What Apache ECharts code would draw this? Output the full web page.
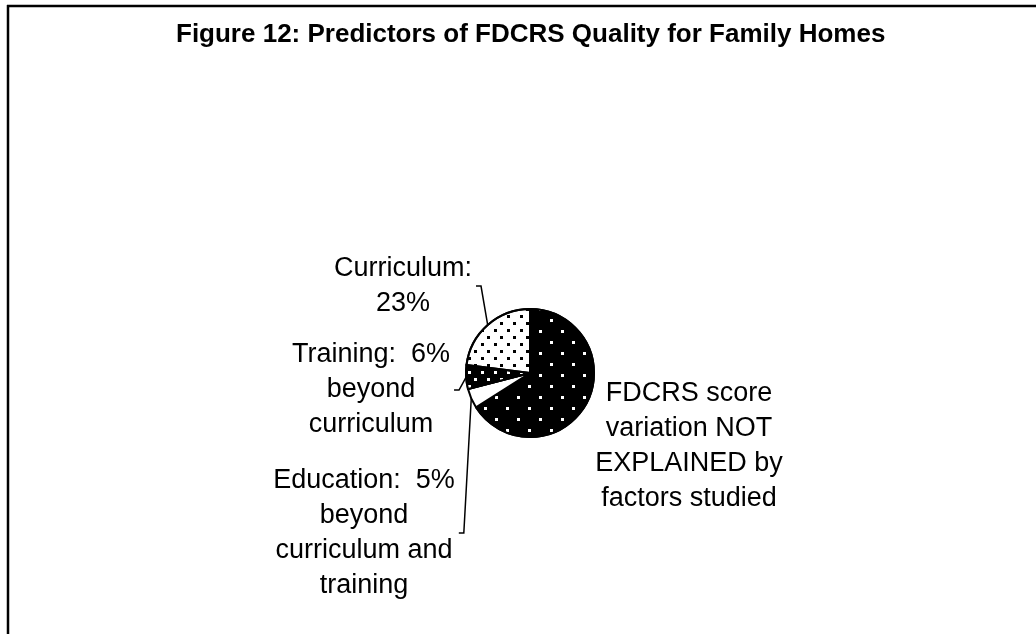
<!DOCTYPE html>
<html>
<head>
<meta charset="utf-8">
<title>Figure 12</title>
<script src="https://cdn.jsdelivr.net/npm/echarts@6/dist/echarts.min.js"></script>
<style>
  html, body { margin: 0; padding: 0; background: #fff; }
  #chart { width: 1036px; height: 634px; }
</style>
</head>
<body>
<div id="chart"></div>
<script>
// slices, clockwise from 12 o'clock
const categories = ["Not explained", "Education", "Training", "Curriculum"];
const values = [66, 5, 6, 23];
const labelTexts = [
  "FDCRS score\nvariation NOT\nEXPLAINED by\nfactors studied",
  "Education:  5%\nbeyond\ncurriculum and\ntraining",
  "Training:  6%\nbeyond\ncurriculum",
  "Curriculum:\n23%"
];
// where each label block sits (centre of text)
const labelSpots = [[689, 446], [364, 533], [371, 390], [403, 286]];

const FONT = "Arial, 'Liberation Sans', sans-serif";

function dots(fg, gx, gy, sz) {
  return {
    symbol: "rect",
    symbolSize: 1,
    color: fg,
    dashArrayX: [[sz, gx * 2 - sz], [0, gx, sz, gx - sz]],
    dashArrayY: [sz, gy - sz],
    rotation: 0
  };
}

const styles = [
  { color: "#000", decal: dots("#fff", 11, 11, 3) },
  { color: "#fff" },
  { color: "#000", decal: dots("#fff", 6, 6, 2.5) },
  { color: "#fff", decal: dots("#000", 6, 6, 2.5) }
];

let myChart = echarts.init(document.getElementById("chart"));

let option = {
  animation: false,
  title: {
    text: "Figure 12: Predictors of FDCRS Quality for Family Homes",
    left: 171,
    top: 17,
    textStyle: {
      fontFamily: FONT,
      fontSize: 26,
      fontWeight: "bold",
      color: "#000"
    }
  },
  graphic: [
    { type: "line", shape: { x1: 7, y1: 6, x2: 1036, y2: 6 }, style: { stroke: "#000", lineWidth: 2.5 } },
    { type: "line", shape: { x1: 8, y1: 5, x2: 8, y2: 634 }, style: { stroke: "#000", lineWidth: 2.5 } }
  ],
  series: [
    {
      type: "pie",
      center: [530, 373],
      radius: 64,
      startAngle: 90,
      clockwise: true,
      avoidLabelOverlap: false,
      itemStyle: {
        borderColor: "#000",
        borderWidth: 2
      },
      label: {
        show: true,
        position: "outside",
        color: "#000",
        fontFamily: FONT,
        fontSize: 27,
        lineHeight: 35,
        align: "center",
        formatter: function (p) {
          return labelTexts[p.dataIndex];
        }
      },
      labelLine: {
        show: true,
        length: 20,
        length2: 6,
        lineStyle: { color: "#000", width: 1.5 }
      },
      labelLayout: function (p) {
        const s = labelSpots[p.dataIndex];
        const out = { x: s[0], y: s[1], align: "center", verticalAlign: "middle" };
        if (p.labelLinePoints && p.dataIndex > 0) {
          const a = p.labelLinePoints[0];
          const r = s[0] + p.labelRect.width / 2;
          out.labelLinePoints = [a, [r + 9, s[1]], [r + 4, s[1]]];
        }
        return out;
      },
      emphasis: { disabled: true },
      data: categories.map(function (name, i) {
        const d = { name: name, value: values[i], itemStyle: styles[i] };
        if (i === 0) d.labelLine = { show: false };
        return d;
      })
    }
  ]
};

if (myChart) {
  myChart.setOption(option);
}
window.addEventListener("resize", () => {
  myChart.resize();
});
</script>
</body>
</html>
